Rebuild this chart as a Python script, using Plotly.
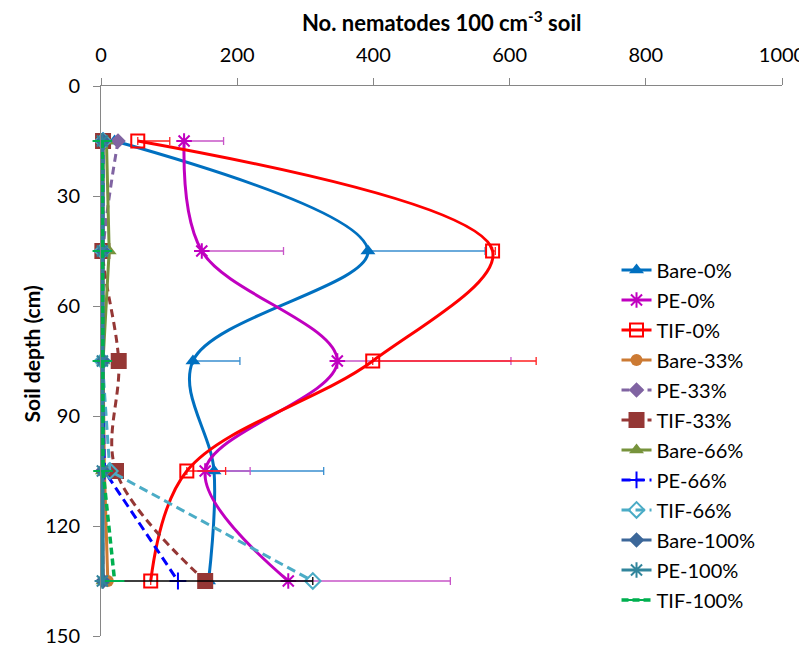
import plotly.graph_objects as go

depth = [15, 45, 75, 105, 135]

bare0 = [20, 392, 135, 166, 158]
bare0_err = [0, 172, 69, 161, 0]
pe0 = [122, 148, 347, 153, 275]
pe0_err = [58, 120, 255, 66, 238]
tif0 = [54, 575, 399, 126, 73]
tif0_err = [47, 4, 240, 57, 0]
bare33 = [3, 3, 3, 5, 10]
pe33 = [25, 3, 2, 2, 3]
tif33 = [3, 2, 26, 22, 153]
bare66 = [8, 12, 3, 2, 3]
pe66 = [3, 2, 2, 5, 113]
tif66 = [3, 2, 2, 13, 311]
bare100 = [3, 3, 3, 3, 3]
bare100_err = [0, 0, 0, 0, 308]
pe100 = [2, 2, 2, 2, 2]
tif100 = [2, 2, 2, 3, 20]

x_ticks = [0, 200, 400, 600, 800, 1000]
y_ticks = [0, 30, 60, 90, 120, 150]

FONT = "Lato"

series = [
    # name, values, color, dash, symbol, msize, shape, width, err, errcolor
    ("Bare-0%", bare0, "#0070C0", "solid", "triangle-up", 13, "spline", 3, bare0_err, "#3A8FD0"),
    ("PE-0%", pe0, "#C000C0", "solid", "asterisk-open", 13, "spline", 3, pe0_err, "#C855C8"),
    ("TIF-0%", tif0, "#FF0000", "solid", "square-open", 13, "spline", 3, tif0_err, "#FF2020"),
    ("Bare-33%", bare33, "#CC7A33", "solid", "circle", 12, "linear", 3, None, None),
    ("PE-33%", pe33, "#8064A2", "8px,5px", "diamond", 12, "spline", 3, None, None),
    ("TIF-33%", tif33, "#953735", "8px,5px", "square", 16, "spline", 3, None, None),
    ("Bare-66%", bare66, "#77933C", "solid", "triangle-up", 13, "linear", 3, None, None),
    ("PE-66%", pe66, "#0000FF", "9px,5px", "cross-thin-open", 12, "linear", 3, None, None),
    ("TIF-66%", tif66, "#4BACC6", "9px,5px", "diamond-open", 12, "linear", 3, None, None),
    ("Bare-100%", bare100, "#3C6799", "solid", "diamond", 12, "linear", 3, bare100_err, "#000000"),
    ("PE-100%", pe100, "#31859C", "solid", "asterisk-open", 13, "linear", 3, None, None),
    ("TIF-100%", tif100, "#00B050", "7px,4px", "line-ew-open", 14, "linear", 3.5, None, None),
]

fig = go.Figure()
for i, (name, vals, color, dash, sym, ms, shape, w, err, ecol) in enumerate(series):
    kw = {}
    if err is not None:
        kw["error_x"] = dict(type="data", array=err, arrayminus=[0] * len(err),
                             symmetric=False, color=ecol, thickness=1.3, width=4)
    fig.add_trace(go.Scatter(
        x=vals, y=depth, name=name, mode="lines+markers",
        legendgroup=name,
        line=dict(color=color, width=w, dash=dash, shape=shape, smoothing=1),
        marker=dict(symbol=sym, size=ms, color=color,
                    line=dict(color=color, width=2 if "open" in sym else 0)),
        cliponaxis=False,
        **kw,
    ))

# the page body adds an 8px offset, so the figure is 8px smaller
fig.update_layout(
    width=799, height=641,
    margin=dict(l=93, r=25, t=78, b=13, autoexpand=False),
    paper_bgcolor="white", plot_bgcolor="white",
    font=dict(family=FONT, size=20, color="#000000"),
    showlegend=True,
    legend=dict(x=0.757, y=0.701, xanchor="left", yanchor="top",
                font=dict(family=FONT, size=20), traceorder="grouped",
                tracegroupgap=1, bgcolor="rgba(0,0,0,0)"),
    xaxis=dict(side="top", range=[0, 1000], tickvals=x_ticks,
               showgrid=False, zeroline=False, showline=True, automargin=False,
               linecolor="#868686", linewidth=1, ticks="outside",
               tickcolor="#868686", ticklen=7, ticklabelstandoff=8,
               tickfont=dict(size=20)),
    yaxis=dict(range=[150, 0], tickvals=y_ticks, showgrid=False, automargin=False,
               zeroline=False, showline=True, linecolor="#868686",
               linewidth=1, ticks="outside", tickcolor="#868686",
               ticklen=7, ticklabelstandoff=9, tickfont=dict(size=20)),
    annotations=[
        dict(text="<b>No. nematodes 100 cm<sup>-3</sup> soil</b>",
             xref="paper", yref="paper", x=0.5, y=1.0, yshift=65,
             xanchor="center", yanchor="middle", showarrow=False,
             font=dict(family=FONT, size=22)),
        dict(text="<b>Soil depth (cm)</b>", textangle=-90,
             xref="paper", yref="paper", x=0, xshift=-70, y=0.512,
             xanchor="center", yanchor="middle", showarrow=False,
             font=dict(family=FONT, size=21)),
    ],
)

fig.write_html("out.html")
